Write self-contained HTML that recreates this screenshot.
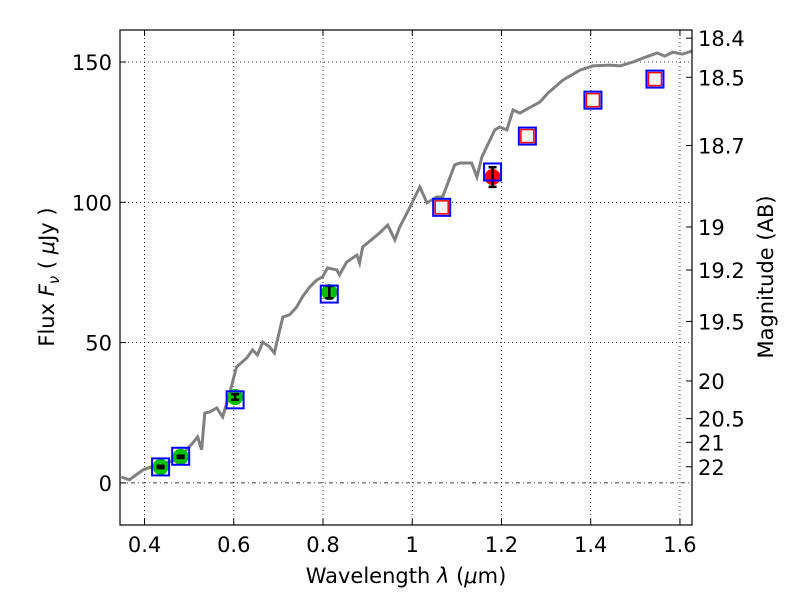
<!DOCTYPE html>
<html><head><meta charset="utf-8"><style>
body{margin:0;background:#fff}
svg text{font-family:"DejaVu Sans","Liberation Sans",sans-serif;fill:#000}
</style></head><body>
<svg id="c" width="800" height="600"></svg>
<script>
const specX=[0.348,0.366,0.396,0.427,0.472,0.494,0.508,0.519,0.528,0.535,0.546,0.562,0.575,0.591,0.606,0.629,0.642,0.653,0.665,0.680,0.691,0.703,0.710,0.725,0.741,0.754,0.770,0.786,0.799,0.810,0.831,0.837,0.853,0.876,0.882,0.889,0.927,0.945,0.961,0.972,0.994,1.017,1.033,1.055,1.068,1.095,1.107,1.133,1.145,1.156,1.185,1.196,1.212,1.226,1.241,1.286,1.304,1.338,1.376,1.405,1.443,1.466,1.495,1.517,1.549,1.566,1.584,1.605,1.627];
const specY=[2.1,1.1,4.6,6.4,8.2,11.8,14.2,16.4,11.8,24.9,25.3,26.7,23.5,32.1,41.3,44.5,47.4,45.6,50.2,48.5,46.3,54.5,59.1,59.9,62.7,66.3,69.8,72.3,73.4,76.6,75.9,74.1,78.7,81.2,78.4,84.1,89.1,91.9,86.6,91.2,98.0,105.5,99.8,101.9,101.9,113.3,114.0,114.0,109.0,116.1,125.8,126.8,125.8,132.9,131.8,135.7,138.9,143.6,147.1,148.6,148.9,148.6,150.0,151.4,153.2,152.1,153.5,152.8,153.9];
const modelX=[0.436,0.481,0.603,0.814,1.066,1.180,1.258,1.405,1.544];
const modelY=[5.7,9.5,29.6,67.3,98.2,110.8,123.6,136.4,143.9];
const obsX=[0.436,0.481,0.603,0.814];
const obsY=[5.7,9.3,30.6,68.0];
const obsErr=[0.4,0.4,1,2.2];
const redSqX=[1.066,1.258,1.405,1.544];
const redSqY=[98.2,123.6,136.4,143.9];
const redX=[1.180];const redY=[109];const redErr=[3.5];
const xTicks=[0.4,0.6,0.8,1,1.2,1.4,1.6];
const xTickLabels=["0.4","0.6","0.8","1","1.2","1.4","1.6"];
const yTicks=[0,50,100,150];
const magTicks=[18.4,18.5,18.7,19,19.2,19.5,20,20.5,21,22];
const L=120,R=692,T=30,B=525,X0=0.345,X1=1.627,Y0=-15,Y1=161.4;
const sx=v=>L+(v-X0)/(X1-X0)*(R-L), sy=v=>B-(v-Y0)/(Y1-Y0)*(B-T);
const svg=document.getElementById('c');const NS='http://www.w3.org/2000/svg';
function mk(t,a,p){const e=document.createElementNS(NS,t);for(const k in a)e.setAttribute(k,a[k]);(p||svg).appendChild(e);return e;}
let e;
e=mk('rect',{x:L,y:T,width:R-L,height:B-T,fill:'#fff'});


xTicks.forEach((v,i)=>{
 e=mk('line',{x1:sx(v),x2:sx(v),y1:T,y2:B,stroke:'#000','stroke-width':0.8,'stroke-dasharray':'1,3'});
 
 
 mk('line',{x1:sx(v),x2:sx(v),y1:B,y2:B-6,stroke:'#000'});mk('line',{x1:sx(v),x2:sx(v),y1:T,y2:T+6,stroke:'#000'});
 e=mk('text',{x:sx(v),y:B+27,'font-size':21,'text-anchor':'middle'});e.textContent=xTickLabels[i];
 
 
});
yTicks.forEach(v=>{
 e=mk('line',{x1:L,x2:R,y1:sy(v),y2:sy(v),stroke:'#000','stroke-width':0.8,'stroke-dasharray':v==0?'4,3,1,3':'1,3'});
 
 
 mk('line',{x1:L,x2:L+6,y1:sy(v),y2:sy(v),stroke:'#000'});
 e=mk('text',{x:L-8,y:sy(v)+8,'font-size':21,'text-anchor':'end'});e.textContent=v;
 
 
});
magTicks.forEach(m=>{
 const f=Math.pow(10,(23.9-m)/2.5);const y=sy(f);
 mk('line',{x1:R,x2:R-6,y1:y,y2:y,stroke:'#000'});
 e=mk('text',{x:R+6,y:y+8,'font-size':21});e.textContent=m;
 
 
});
e=mk('polyline',{points:specX.map((v,i)=>sx(v)+','+sy(specY[i])).join(' '),fill:'none',stroke:'#808080','stroke-width':3});


obsX.forEach((v,i)=>{
 e=mk('circle',{cx:sx(v),cy:sy(obsY[i]),r:8,fill:'#00c000'});
 
 
});
redX.forEach((v,i)=>{
 e=mk('circle',{cx:sx(v),cy:sy(redY[i]),r:8,fill:'#f00'});
 
 
});
function errbar(x,y,er){const x0=sx(x),a=sy(y-er),b=sy(y+er);
 mk('line',{x1:x0,x2:x0,y1:a,y2:b,stroke:'#000','stroke-width':2.5});
 mk('line',{x1:x0-4,x2:x0+4,y1:a,y2:a,stroke:'#000','stroke-width':2.5});
 mk('line',{x1:x0-4,x2:x0+4,y1:b,y2:b,stroke:'#000','stroke-width':2.5});}
obsX.forEach((v,i)=>errbar(v,obsY[i],obsErr[i]));
redX.forEach((v,i)=>errbar(v,redY[i],redErr[i]));
redSqX.forEach((v,i)=>{
 e=mk('rect',{x:sx(v)-6.5,y:sy(redSqY[i])-6.5,width:13,height:13,fill:'#fff4f4',stroke:'#f00','stroke-width':1.5});
 
 
});
modelX.forEach((v,i)=>{
 e=mk('rect',{x:sx(v)-8.5,y:sy(modelY[i])-8.5,width:17,height:17,fill:'none',stroke:'#00f','stroke-width':2});
 
 
});
e=mk('rect',{x:L,y:T,width:R-L,height:B-T,fill:'none',stroke:'#000','stroke-width':1.2});


e=mk('text',{x:406,y:583,'font-size':21,'text-anchor':'middle'});e.innerHTML='Wavelength  <tspan font-style="italic">λ</tspan> (<tspan font-style="italic">μ</tspan>m)';


e=mk('text',{x:0,y:0,'font-size':21,'text-anchor':'middle',transform:'translate(54,277) rotate(-90)'});e.innerHTML='Flux  <tspan font-style="italic">F</tspan><tspan font-style="italic" font-size="15" dy="5">ν</tspan><tspan dy="-5">  ( </tspan><tspan font-style="italic">μ</tspan>Jy )';


e=mk('text',{x:0,y:0,'font-size':21,'text-anchor':'middle',transform:'translate(773,277) rotate(-90)'});e.textContent='Magnitude (AB)';


</script>
</body></html>
